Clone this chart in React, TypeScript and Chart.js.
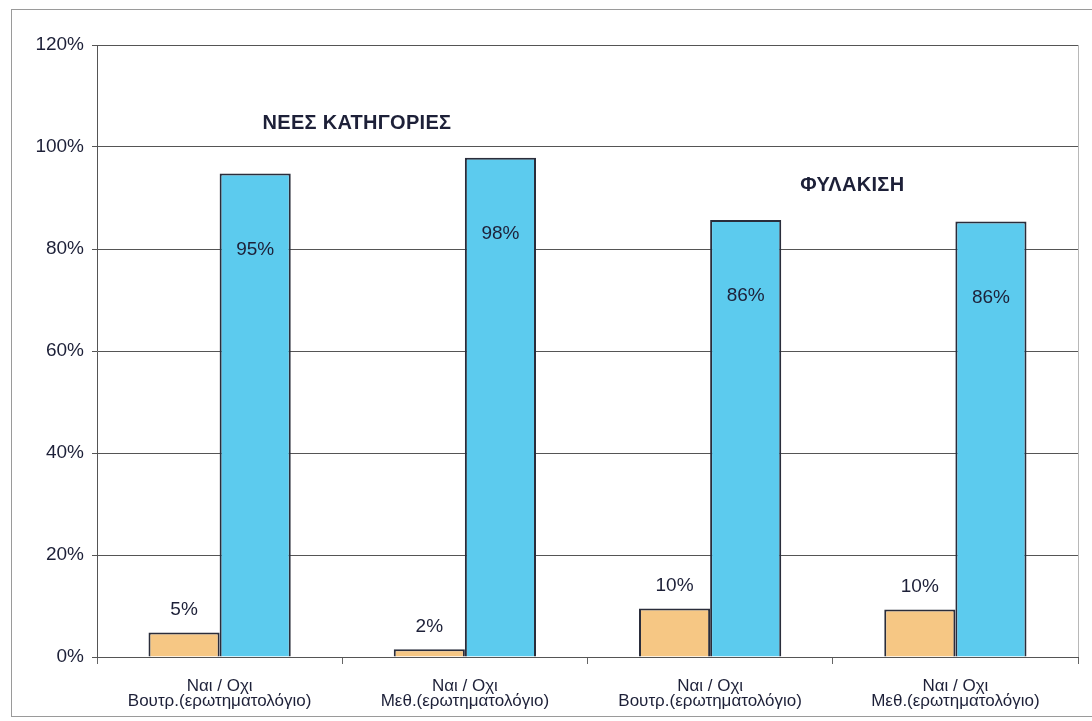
import React, { useEffect, useRef } from "react";
import { Chart, registerables } from "chart.js";

Chart.register(...registerables);

const categories: string[][] = [
  ["Ναι / Οχι", "Βουτρ.(ερωτηματολόγιο)"],
  ["Ναι / Οχι", "Μεθ.(ερωτηματολόγιο)"],
  ["Ναι / Οχι", "Βουτρ.(ερωτηματολόγιο)"],
  ["Ναι / Οχι", "Μεθ.(ερωτηματολόγιο)"],
];
const yesValues = [4.8, 1.5, 9.5, 9.3];
const noValues = [94.8, 97.9, 85.7, 85.4];
const yesLabels = ["5%", "2%", "10%", "10%"];
const noLabels = ["95%", "98%", "86%", "86%"];
const yTicks = [0, 20, 40, 60, 80, 100, 120];
const annotations = [
  { text: "ΝΕΕΣ ΚΑΤΗΓΟΡΙΕΣ", x: 0.56, y: 104.7 },
  { text: "ΦΥΛΑΚΙΣΗ", x: 2.58, y: 92.5 },
];

const FONT = "'Liberation Sans', Arial, sans-serif";
const TEXT = "#1d2038";

const extrasPlugin = {
  id: "extras",
  beforeDraw(chart: any) {
    const ctx = chart.ctx;
    ctx.save();
    ctx.fillStyle = "#ffffff";
    ctx.fillRect(0, 0, chart.width, chart.height);
    ctx.strokeStyle = "#9a9a9a";
    ctx.lineWidth = 1;
    ctx.strokeRect(11.5, 9.5, chart.width + 10, 707);
    ctx.restore();
  },
  afterDraw(chart: any) {
    const ctx = chart.ctx;
    const { chartArea } = chart;
    ctx.save();
    ctx.strokeStyle = "#b8b8b8";
    ctx.lineWidth = 1;
    ctx.beginPath();
    ctx.moveTo(Math.round(chartArea.right) + 0.5, chartArea.top);
    ctx.lineTo(Math.round(chartArea.right) + 0.5, chartArea.bottom);
    ctx.stroke();

    ctx.fillStyle = TEXT;
    ctx.font = `19px ${FONT}`;
    ctx.textAlign = "center";
    ctx.textBaseline = "middle";
    const m0 = chart.getDatasetMeta(0);
    const m1 = chart.getDatasetMeta(1);
    m0.data.forEach((el: any, i: number) => {
      ctx.fillText(yesLabels[i], el.x, el.y - 23);
    });
    m1.data.forEach((el: any, i: number) => {
      ctx.fillText(noLabels[i], el.x, el.y + 76);
    });

    const xs = chart.scales.x;
    const ys = chart.scales.y;
    ctx.font = `bold 20px ${FONT}`;
    (ctx as any).letterSpacing = "0.3px";
    annotations.forEach((a) => {
      ctx.fillText(a.text, xs.getPixelForValue(a.x), ys.getPixelForValue(a.y));
    });
    ctx.restore();
  },
};

export default function App() {
  const ref = useRef<HTMLCanvasElement | null>(null);
  useEffect(() => {
    if (!ref.current) return;
    const chart = new Chart(ref.current, {
      type: "bar",
      data: {
        labels: categories,
        datasets: [
          {
            label: "Ναι",
            data: yesValues,
            backgroundColor: "#f6c784",
            borderColor: "#2a2d3b",
            borderWidth: 2,
          },
          {
            label: "Οχι",
            data: noValues,
            backgroundColor: "#5ccbee",
            borderColor: "#2a2d3b",
            borderWidth: 2,
          },
        ],
      },
      options: {
        responsive: false,
        animation: false,
        devicePixelRatio: 1,
        layout: { padding: { left: 0, top: 45, right: 14, bottom: 0 } },
        datasets: { bar: { categoryPercentage: 0.58, barPercentage: 1 } },
        plugins: {
          legend: { display: false },
          tooltip: { enabled: false },
          title: { display: false },
        },
        scales: {
          x: {
            offset: true,
            grid: {
              display: true,
              drawOnChartArea: false,
              offset: true,
              tickLength: 7,
              color: "#666",
            },
            border: { display: true, color: "#555", width: 1 },
            ticks: {
              color: TEXT,
              font: { family: FONT, size: 17, lineHeight: 0.92 },
              padding: 14,
              maxRotation: 0,
              autoSkip: false,
            },
            afterFit(scale: any) {
              scale.height = 64;
            },
          },
          y: {
            min: 0,
            max: 120,
            afterBuildTicks(scale: any) {
              scale.ticks = yTicks.map((v) => ({ value: v }));
            },
            grid: {
              color: "#555",
              lineWidth: 1,
              tickLength: 5,
            },
            border: { display: true, color: "#555", width: 1 },
            ticks: {
              color: TEXT,
              font: { family: FONT, size: 19 },
              padding: 8,
              callback: (v: any) => `${v}%`,
            },
            afterFit(scale: any) {
              scale.width = 97;
            },
          },
        },
      },
      plugins: [extrasPlugin],
    });
    return () => chart.destroy();
  }, []);
  return (
    <div style={{ position: "absolute", left: 0, top: 0, width: 1092, height: 721 }}>
      <canvas ref={ref} width={1092} height={721} style={{ display: "block" }} />
    </div>
  );
}
